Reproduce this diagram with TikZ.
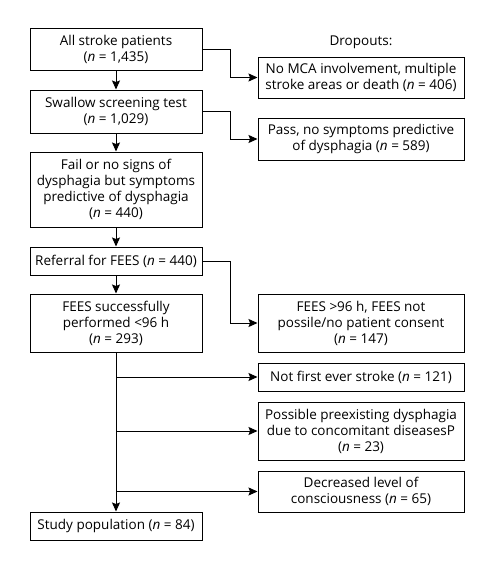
\documentclass[tikz,border=0pt]{standalone}
\usepackage{fontspec}
\setmainfont{Open Sans}
\usetikzlibrary{arrows.meta}
\begin{document}
\begin{tikzpicture}[x=1pt,y=-1pt,
  box/.style={draw,line width=1pt,align=center,inner sep=1pt,font=\fontsize{13.5}{16}\selectfont},
  lbox/.style={box,minimum width=172pt},
  rbox/.style={box,minimum width=206pt},
  arr/.style={line width=1pt,-{Stealth[length=9pt,width=8pt,inset=1.5pt]}},
  ln/.style={line width=1pt}]
\useasboundingbox (0,0) rectangle (498,570);
\fill[white] (0,0) rectangle (498,570);
\node[lbox,minimum height=42pt] (b1) at (116,49) {All stroke patients\\(\textit{n} = 1,435)};
\node[lbox,minimum height=43pt] (b2) at (116,111.5) {Swallow screening test\\(\textit{n} = 1,029)};
\node[lbox,minimum height=75pt] (b3) at (116,189.5) {Fail or no signs of\\dysphagia but symptoms\\predictive of dysphagia\\(\textit{n} = 440)};
\node[lbox,minimum height=28pt] (b4) at (116,261) {Referral for FEES (\textit{n} = 440)};
\node[lbox,minimum height=58pt] (b5) at (116,323) {FEES successfully\\performed <96 h\\(\textit{n} = 293)};
\node[lbox,minimum height=28pt] (b6) at (116,526) {Study population (\textit{n} = 84)};
\node[font=\fontsize{13.5}{16}\selectfont] (drop) at (361,42) {Dropouts:};
\node[rbox,minimum height=41pt] (r1) at (361,77.5) {No MCA involvement, multiple\\stroke areas or death (\textit{n} = 406)};
\node[rbox,minimum height=42pt] (r2) at (361,139) {Pass, no symptoms predictive\\of dysphagia (\textit{n} = 589)};
\node[rbox,minimum height=58pt] (r3) at (361,323) {FEES >96 h, FEES not\\possile/no patient consent\\(\textit{n} = 147)};
\node[rbox,minimum height=28pt] (r4) at (361,377) {Not first ever stroke (\textit{n} = 121)};
\node[rbox,minimum height=58pt] (r5) at (361,431) {Possible preexisting dysphagia\\due to concomitant diseasesP\\(\textit{n} = 23)};
\node[rbox,minimum height=41pt] (r6) at (361,491.5) {Decreased level of\\consciousness (\textit{n} = 65)};
\draw[arr] (b1) -- (b2);
\draw[arr] (b2) -- (b3);
\draw[arr] (b3) -- (b4);
\draw[arr] (b4) -- (b5);
\draw[arr] (b5) -- (b6);
\draw[arr] (b1.east) -- ++(28,0) |- (r1.west);
\draw[arr] (b2.east) -- ++(28,0) |- (r2.west);
\draw[arr] (b4.east) -- ++(28,0) |- (r3.west);
\draw[arr] (b5.south |- r4.west) -- (r4.west);
\draw[arr] (b5.south |- r5.west) -- (r5.west);
\draw[arr] (b5.south |- r6.west) -- (r6.west);
\end{tikzpicture}
\end{document}
